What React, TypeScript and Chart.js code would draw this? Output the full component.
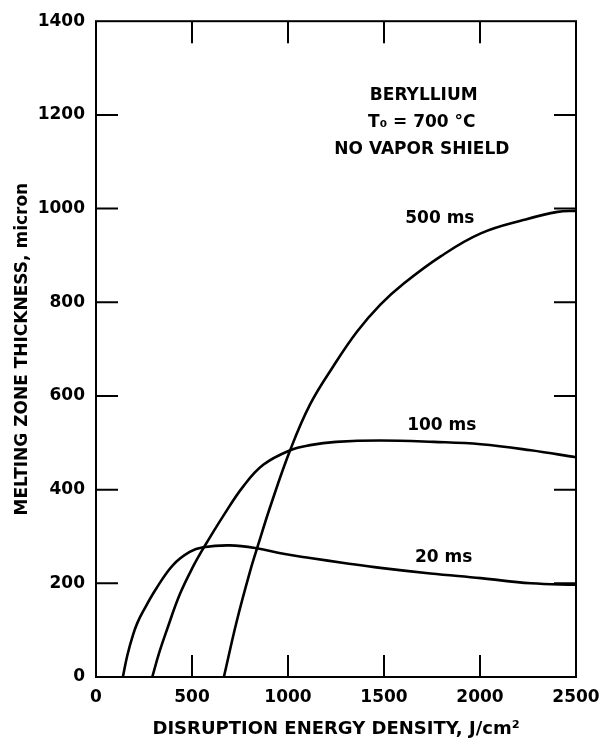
import React, { useEffect, useRef } from "react";
import { Chart, registerables } from "chart.js";

Chart.register(...registerables);

// ---- tick values ----
const X_TICKS = [0, 500, 1000, 1500, 2000, 2500];
const Y_TICKS = [0, 200, 400, 600, 800, 1000, 1200, 1400];
const X_INNER_TICKS = [500, 1000, 1500, 2000];
const Y_INNER_TICKS = [200, 400, 600, 800, 1000, 1200];

// ---- series: disruption energy density (J/cm2) vs melting zone thickness (micron) ----
const E_20MS = [140, 163, 192, 215, 245, 314, 401, 488, 558, 697, 837, 976, 1115, 1300, 1481, 1742, 2004, 2265, 2500];
const T_20MS = [0, 46, 89, 115, 140, 189, 239, 267, 277, 281, 275, 263, 254, 243, 233, 221, 211, 200, 197];

const E_100MS = [293, 330, 367, 436, 506, 558, 663, 767, 871, 1011, 1115, 1250, 1481, 1760, 2004, 2265, 2500];
const T_100MS = [0, 53, 98, 176, 236, 274, 344, 407, 453, 484, 495, 502, 505, 502, 497, 484, 469];

const E_500MS = [666, 733, 802, 846, 907, 1011, 1115, 1237, 1359, 1481, 1603, 1795, 2004, 2230, 2404, 2500];
const T_500MS = [0, 119, 225, 284, 363, 484, 582, 664, 737, 795, 840, 898, 947, 976, 993, 995];

const SERIES_NAMES = ["20 ms", "100 ms", "500 ms"];

// ---- annotation texts (anchored in data coordinates) ----
const NOTES = [
  { text: "BERYLLIUM", x: 1707, y: 1241 },
  { text: "T\u2080 = 700 \u00B0C", x: 1697, y: 1184 },
  { text: "NO VAPOR SHIELD", x: 1697, y: 1126 },
  { text: "500 ms", x: 1791, y: 978 },
  { text: "100 ms", x: 1801, y: 537 },
  { text: "20 ms", x: 1811, y: 254 },
];

const X_TITLE = "DISRUPTION ENERGY DENSITY, J/cm\u00B2";
const Y_TITLE = "MELTING ZONE THICKNESS, micron";

const FONT_FAMILY = '"DejaVu Sans", "Liberation Sans", sans-serif';

function pts(xs: number[], ys: number[]) {
  return xs.map((x, i) => ({ x, y: ys[i] }));
}

const framePlugin = {
  id: "frameAndNotes",
  afterDatasetsDraw(chart: any) {
    const { ctx, chartArea } = chart;
    const { left, right, top, bottom } = chartArea;
    const xs = chart.scales.x;
    const ys = chart.scales.y;
    const TL = 22;
    ctx.save();
    ctx.strokeStyle = "#000";
    ctx.lineWidth = 2;
    ctx.strokeRect(left, top, right - left, bottom - top);
    ctx.beginPath();
    for (const v of X_INNER_TICKS) {
      const p = xs.getPixelForValue(v);
      ctx.moveTo(p, bottom);
      ctx.lineTo(p, bottom - TL);
      ctx.moveTo(p, top);
      ctx.lineTo(p, top + TL);
    }
    for (const v of Y_INNER_TICKS) {
      const p = ys.getPixelForValue(v);
      ctx.moveTo(left, p);
      ctx.lineTo(left + TL, p);
      ctx.moveTo(right, p);
      ctx.lineTo(right - TL, p);
    }
    ctx.stroke();

    ctx.fillStyle = "#000";
    ctx.font = `bold 17px ${FONT_FAMILY}`;
    ctx.textAlign = "center";
    ctx.textBaseline = "middle";
    for (const n of NOTES) {
      ctx.fillText(n.text, xs.getPixelForValue(n.x), ys.getPixelForValue(n.y));
    }
    ctx.restore();
  },
};

export default function App() {
  const canvasRef = useRef<HTMLCanvasElement | null>(null);

  useEffect(() => {
    const canvas = canvasRef.current;
    if (!canvas) return;
    const lineStyle = {
      borderColor: "#000",
      borderWidth: 2.6,
      pointRadius: 0,
      pointHoverRadius: 0,
      fill: false,
      tension: 0.4,
      showLine: true,
    };
    const chart = new Chart(canvas, {
      type: "line",
      data: {
        datasets: [
          { label: SERIES_NAMES[0], data: pts(E_20MS, T_20MS), ...lineStyle },
          { label: SERIES_NAMES[1], data: pts(E_100MS, T_100MS), ...lineStyle },
          { label: SERIES_NAMES[2], data: pts(E_500MS, T_500MS), ...lineStyle },
        ],
      },
      options: {
        responsive: false,
        animation: false,
        events: [],
        layout: { padding: { left: 0, right: 38, top: 16, bottom: 0 } },
        plugins: {
          legend: { display: false },
          tooltip: { enabled: false },
          title: { display: false },
        },
        scales: {
          x: {
            type: "linear",
            min: 0,
            max: 2500,
            afterBuildTicks: (s: any) => {
              s.ticks = X_TICKS.map((v) => ({ value: v }));
            },
            afterFit: (s: any) => {
              s.height = 65;
            },
            grid: { display: false, drawTicks: false },
            border: { display: false },
            ticks: {
              color: "#000",
              font: { family: FONT_FAMILY, size: 17, weight: "bold" },
              padding: 10,
              maxRotation: 0,
              autoSkip: false,
              callback: (v: any) => String(v),
            },
            title: {
              display: true,
              text: X_TITLE,
              color: "#000",
              font: { family: FONT_FAMILY, size: 18, weight: "bold" },
              padding: { top: 0, bottom: 2 },
            },
          },
          y: {
            type: "linear",
            min: 0,
            max: 1400,
            afterBuildTicks: (s: any) => {
              s.ticks = Y_TICKS.map((v) => ({ value: v }));
            },
            afterFit: (s: any) => {
              s.width = 96;
            },
            grid: { display: false, drawTicks: false },
            border: { display: false },
            ticks: {
              color: "#000",
              font: { family: FONT_FAMILY, size: 17, weight: "bold" },
              padding: 11,
              autoSkip: false,
              callback: (v: any) => String(v),
            },
            title: {
              display: true,
              text: Y_TITLE,
              color: "#000",
              font: { family: FONT_FAMILY, size: 17, weight: "bold" },
              padding: { top: 12, bottom: 0 },
            },
          },
        },
      },
      plugins: [framePlugin],
    });
    return () => chart.destroy();
  }, []);

  return (
    <div style={{ position: "fixed", left: 0, top: 0, width: 614, height: 742, background: "#fff" }}>
      <canvas ref={canvasRef} width={614} height={742} style={{ display: "block" }} />
    </div>
  );
}
